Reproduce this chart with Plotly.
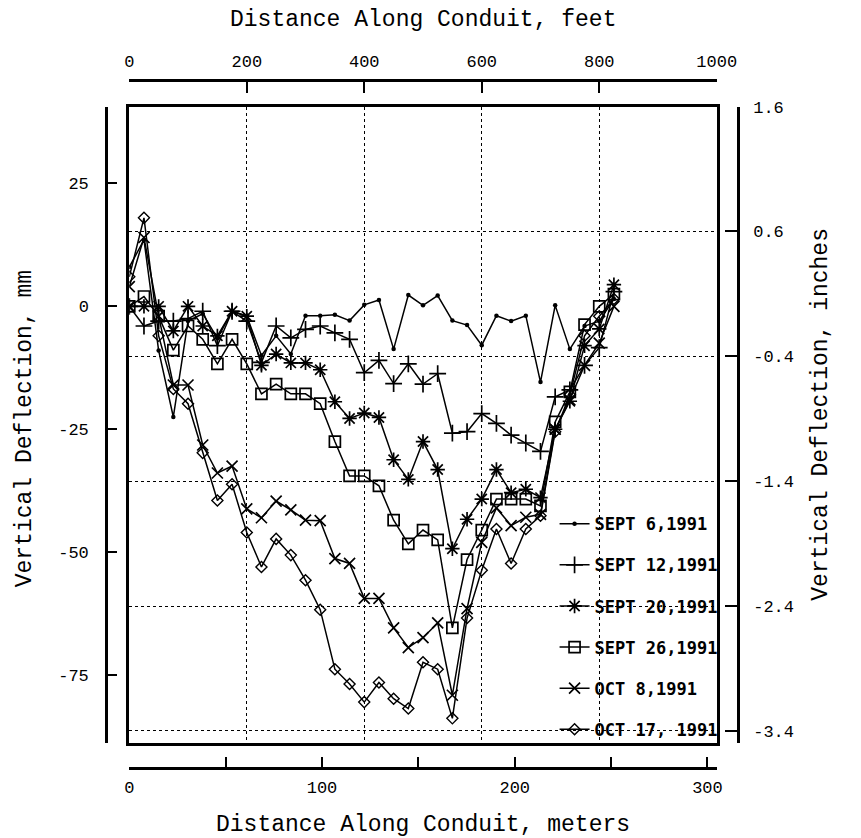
import plotly.graph_objects as go

W, H = 861, 838
FT_TO_M = 0.3048
IN_TO_MM = 25.4

# ---------------- data ----------------
distance_ft = [0, 25, 50, 75, 100, 125, 150, 175, 200, 225, 250, 275, 300, 325, 350, 375,
               400, 425, 450, 475, 500, 525, 550, 575, 600, 625, 650, 675, 700, 725, 750,
               775, 800, 825]

sept6 = [8, 13.5, -9, -22.5, -3, -1.5, -6.5, -1, -2, -10, -6, -9.7, -1.9, -1.9, -1.7, -2.9,
         0.3, 1.3, -8.7, 2.3, 0.2, 2.2, -2.9, -3.8, -7.9, -1.9, -3.0, -1.9, -15.4, 0.2, -8.7,
         -4, -3, 1.5]
sept12 = [0, -4, -3, -3, -2.5, -1, -8, -1, -3, -11.4, -4, -6.4, -4.7, -4, -5.4, -6.7,
          -13.5, -11, -15.7, -11.7, -15.8, -13.7, -25.8, -25.5, -21.8, -23.8, -26.2, -27.8,
          -29.5, -18.4, -17, -12, -8.4, 3]
sept20 = [0, 0, 0, -5, 0, -4, -6, -1, -2, -12, -9.7, -11.5, -11.5, -12.9, -19.4, -22.8,
          -21.7, -22.6, -31.2, -35.2, -27.5, -33.2, -49.3, -43.3, -39.2, -33.2, -37.9, -37.2,
          -38.9, -25, -19.3, -8, -4.6, 4.4]
sept26 = [0, 2, -2, -8.9, -4, -6.7, -11.7, -6.7, -11.7, -17.8, -15.8, -17.8, -17.8, -19.8,
          -27.5, -34.5, -34.5, -36.5, -43.5, -48.3, -45.5, -47.5, -65.4, -51.5, -45.5, -39.2,
          -39.2, -39.2, -40.6, -23.5, -17.4, -3.7, 0, 2.5]
oct8 = [4, 14, -2, -16, -16, -28.2, -33.9, -32.5, -41.2, -43, -39.6, -41.4, -43.5, -43.6,
        -51.3, -52.3, -59.4, -59.4, -65.4, -69.4, -67.4, -64.4, -79.1, -61.5, -48, -41,
        -44.6, -42.9, -42.3, -25, -19, -12, -7.5, 0]
oct17 = [6, 18, -6, -16.8, -19.8, -29.8, -39.5, -36.2, -46, -53, -47.3, -50.6, -55.7, -61.7,
         -73.8, -76.8, -80.5, -76.5, -79.8, -81.8, -72.4, -73.8, -83.8, -63.4, -53.7, -45.3,
         -52.3, -45.3, -42.6, -25.5, -18, -6, -2, 1.5]

series_names = ["SEPT 6,1991", "SEPT 12,1991", "SEPT 20,1991", "SEPT 26,1991",
                "OCT 8,1991", "OCT 17, 1991"]
series_values = [sept6, sept12, sept20, sept26, oct8, oct17]

feet_ticks = [0, 200, 400, 600, 800, 1000]
meter_ticks = [0, 100, 200, 300]
meter_minor_ticks = [50, 150, 250]
mm_ticks = [25, 0, -25, -50, -75]
inch_ticks = [1.6, 0.6, -0.4, -1.4, -2.4, -3.4]
inch_range = [-3.5, 1.6]

# ---------------- styles ----------------
marker_styles = [
    dict(symbol="circle", size=4.5, color="black"),
    dict(symbol="cross-thin", size=12, color="black", line=dict(color="black", width=1.7)),
    dict(symbol="asterisk", size=12, color="black", line=dict(color="black", width=1.7)),
    dict(symbol="square-open", size=11, color="black", line=dict(color="black", width=1.7)),
    dict(symbol="x-thin", size=11, color="black", line=dict(color="black", width=1.7)),
    dict(symbol="diamond-open", size=8.5, color="black", line=dict(color="black", width=1.4)),
]

MONO = "Liberation Mono"
BLACK = "black"

distance_m = [f * FT_TO_M for f in distance_ft]

fig = go.Figure()
for name, vals, mk in zip(series_names, series_values, marker_styles):
    fig.add_trace(go.Scatter(
        x=distance_m, y=vals, name=name, mode="lines+markers",
        line=dict(color=BLACK, width=1.5), marker=mk,
        legendgroup=name, xaxis="x", yaxis="y",
    ))

# dummy traces so every scale axis is instantiated
for xa, ya in [("x2", "y"), ("x3", "y"), ("x", "y2"), ("x", "y3")]:
    fig.add_trace(go.Scatter(x=[None], y=[None], xaxis=xa, yaxis=ya,
                             showlegend=False, hoverinfo="skip"))

# ---------------- layout geometry (pixels) ----------------
box_l, box_r, box_t, box_b = 128, 733, 99.5, 742.5
left_axis_x, right_axis_x = 104, 755
top_axis_y, bottom_axis_y = 73, 767

xdom = [box_l / W, box_r / W]
ydom = [1 - box_b / H, 1 - box_t / H]
x_range = [0, feet_ticks[-1] * FT_TO_M]
y_range = [inch_range[0] * IN_TO_MM, inch_range[1] * IN_TO_MM]

tick_font = dict(family=MONO, size=17, color=BLACK)

fig.update_layout(
    width=W, height=H, autosize=False,
    margin=dict(l=0, r=0, t=0, b=0),
    paper_bgcolor="white", plot_bgcolor="white",
    showlegend=True,
    xaxis=dict(domain=xdom, range=x_range, showline=True, mirror=True, linewidth=3,
               linecolor=BLACK, ticks="", showticklabels=False,
               tickvals=[f * FT_TO_M for f in feet_ticks[1:-1]],
               showgrid=True, gridcolor=BLACK, gridwidth=1, griddash="dot",
               zeroline=False, anchor="y"),
    yaxis=dict(domain=ydom, range=y_range, showline=True, mirror=True, linewidth=3,
               linecolor=BLACK, ticks="", showticklabels=False,
               tickvals=[v * IN_TO_MM for v in inch_ticks[1:]],
               showgrid=True, gridcolor=BLACK, gridwidth=1, griddash="dot",
               zeroline=False, anchor="x"),
    xaxis2=dict(overlaying="x", anchor="free", position=1 - top_axis_y / H, side="top",
                range=[0, feet_ticks[-1]], tickvals=feet_ticks,
                ticktext=[str(v) for v in feet_ticks],
                ticks="inside", ticklen=11, tickwidth=2, tickcolor=BLACK,
                showline=True, linewidth=2.5, linecolor=BLACK, showgrid=False,
                zeroline=False, tickfont=tick_font, ticklabelstandoff=6),
    xaxis3=dict(overlaying="x", anchor="free", position=1 - bottom_axis_y / H, side="bottom",
                range=x_range, tickvals=meter_ticks, ticktext=[str(v) for v in meter_ticks],
                ticks="inside", ticklen=10, tickwidth=2, tickcolor=BLACK,
                minor=dict(tickvals=meter_minor_ticks, ticks="inside", ticklen=10,
                           tickwidth=2, tickcolor=BLACK, showgrid=False),
                showline=True, linewidth=2.5, linecolor=BLACK, showgrid=False,
                zeroline=False, tickfont=tick_font, ticklabelstandoff=3),
    yaxis2=dict(overlaying="y", anchor="free", position=right_axis_x / W, side="right",
                range=inch_range, tickvals=inch_ticks,
                ticktext=[f"{v:.1f}" for v in inch_ticks],
                ticks="inside", ticklen=12, tickwidth=2, tickcolor=BLACK,
                showline=True, linewidth=2.5, linecolor=BLACK, showgrid=False,
                zeroline=False, tickfont=tick_font, ticklabelstandoff=10),
    yaxis3=dict(overlaying="y", anchor="free", position=left_axis_x / W, side="left",
                range=y_range, tickvals=mm_ticks, ticktext=[str(v) for v in mm_ticks],
                ticks="inside", ticklen=9, tickwidth=2, tickcolor=BLACK,
                showline=True, linewidth=2.5, linecolor=BLACK, showgrid=False,
                zeroline=False, tickfont=tick_font, ticklabelstandoff=13),
    legend=dict(x=566 / W, y=1 - 503 / H, xanchor="left", yanchor="top",
                bgcolor="rgba(0,0,0,0)", borderwidth=0, tracegroupgap=16,
                itemwidth=30,
                font=dict(family="DejaVu Sans Mono", size=17, color=BLACK, weight="bold")),
)

title_font = dict(family=MONO, size=23, color=BLACK)
fig.add_annotation(text="Distance Along Conduit, feet", x=(box_l + box_r) / 2 / W,
                   y=1 - 12 / H, xref="paper", yref="paper", showarrow=False,
                   font=title_font, xanchor="center", yanchor="middle")
fig.add_annotation(text="Distance Along Conduit, meters", x=(box_l + box_r) / 2 / W,
                   y=1 - 825 / H, xref="paper", yref="paper", showarrow=False,
                   font=title_font, xanchor="center", yanchor="middle")
fig.add_annotation(text="Vertical Deflection, mm", x=21 / W, y=1 - 425 / H,
                   xref="paper", yref="paper", showarrow=False, textangle=-90,
                   font=title_font, xanchor="center", yanchor="middle")
fig.add_annotation(text="Vertical Deflection, inches", x=840 / W, y=1 - 410 / H,
                   xref="paper", yref="paper", showarrow=False, textangle=-90,
                   font=title_font, xanchor="center", yanchor="middle")

fig.write_html("out.html")
